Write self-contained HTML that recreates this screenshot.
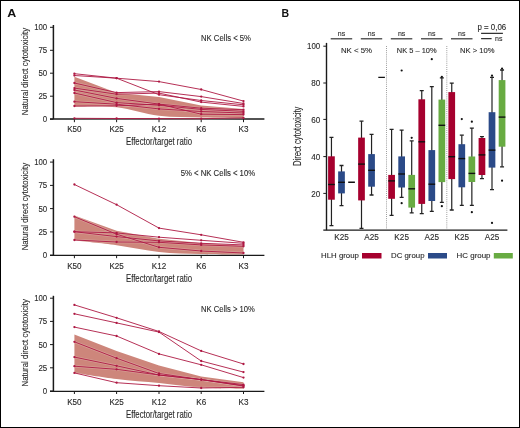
<!DOCTYPE html>
<html><head><meta charset="utf-8"><style>
html,body{margin:0;padding:0;background:#fff;width:520px;height:428px;overflow:hidden}
svg{display:block;font-family:"Liberation Sans",sans-serif;will-change:transform}
</style></head><body>
<svg width="520" height="428" viewBox="0 0 520 428">
<rect x="0.5" y="0.5" width="519" height="427" fill="none" stroke="#000" stroke-width="1"/>
<text x="7.2" y="17.1" font-size="11.8" text-anchor="start" fill="#111" font-weight="bold" textLength="9.0" lengthAdjust="spacingAndGlyphs" >A</text>
<text x="281.4" y="17.2" font-size="11" text-anchor="start" fill="#111" font-weight="bold" textLength="7.6" lengthAdjust="spacingAndGlyphs" >B</text>
<path d="M74.4,76.7 L116.6,92.7 L159.0,97.0 L201.2,105.5 L243.5,109.0 L243.5,118.3 C236.4,118.2 215.3,117.9 201.2,117.5 C187.1,117.1 173.1,117.5 159.0,115.8 C144.9,114.1 130.7,108.8 116.6,107.3 C102.5,105.8 81.4,106.9 74.4,106.8Z" fill="#cd867b"/>
<path d="M53.4,25.0 V119.0" fill="none" stroke="#1a1a1a" stroke-width="1.5"/>
<path d="M50,119.0 H264.4" fill="none" stroke="#1a1a1a" stroke-width="1.4"/>
<path d="M50,119.2 H53.4" stroke="#1a1a1a" stroke-width="1"/>
<text x="47.2" y="122.2" font-size="9.5" text-anchor="end" fill="#2a2a2a" font-weight="normal" stroke="#2a2a2a" stroke-width="0.12" textLength="4.4" lengthAdjust="spacingAndGlyphs" >0</text>
<path d="M50,96.2 H53.4" stroke="#1a1a1a" stroke-width="1"/>
<text x="47.2" y="99.2" font-size="9.5" text-anchor="end" fill="#2a2a2a" font-weight="normal" stroke="#2a2a2a" stroke-width="0.12" textLength="8.8" lengthAdjust="spacingAndGlyphs" >25</text>
<path d="M50,73.2 H53.4" stroke="#1a1a1a" stroke-width="1"/>
<text x="47.2" y="76.2" font-size="9.5" text-anchor="end" fill="#2a2a2a" font-weight="normal" stroke="#2a2a2a" stroke-width="0.12" textLength="8.8" lengthAdjust="spacingAndGlyphs" >50</text>
<path d="M50,50.3 H53.4" stroke="#1a1a1a" stroke-width="1"/>
<text x="47.2" y="53.3" font-size="9.5" text-anchor="end" fill="#2a2a2a" font-weight="normal" stroke="#2a2a2a" stroke-width="0.12" textLength="8.8" lengthAdjust="spacingAndGlyphs" >75</text>
<path d="M50,27.3 H53.4" stroke="#1a1a1a" stroke-width="1"/>
<text x="47.2" y="30.3" font-size="9.5" text-anchor="end" fill="#2a2a2a" font-weight="normal" stroke="#2a2a2a" stroke-width="0.12" textLength="13" lengthAdjust="spacingAndGlyphs" >100</text>
<path d="M74.4,119.2 V122.2" stroke="#1a1a1a" stroke-width="1"/>
<text x="74.4" y="132.4" font-size="8.8" text-anchor="middle" fill="#2a2a2a" font-weight="normal" stroke="#2a2a2a" stroke-width="0.12" textLength="14.4" lengthAdjust="spacingAndGlyphs" >K50</text>
<path d="M116.6,119.2 V122.2" stroke="#1a1a1a" stroke-width="1"/>
<text x="116.6" y="132.4" font-size="8.8" text-anchor="middle" fill="#2a2a2a" font-weight="normal" stroke="#2a2a2a" stroke-width="0.12" textLength="14.4" lengthAdjust="spacingAndGlyphs" >K25</text>
<path d="M159.0,119.2 V122.2" stroke="#1a1a1a" stroke-width="1"/>
<text x="159.0" y="132.4" font-size="8.8" text-anchor="middle" fill="#2a2a2a" font-weight="normal" stroke="#2a2a2a" stroke-width="0.12" textLength="14.4" lengthAdjust="spacingAndGlyphs" >K12</text>
<path d="M201.2,119.2 V122.2" stroke="#1a1a1a" stroke-width="1"/>
<text x="201.2" y="132.4" font-size="8.8" text-anchor="middle" fill="#2a2a2a" font-weight="normal" stroke="#2a2a2a" stroke-width="0.12" textLength="10" lengthAdjust="spacingAndGlyphs" >K6</text>
<path d="M243.5,119.2 V122.2" stroke="#1a1a1a" stroke-width="1"/>
<text x="243.5" y="132.4" font-size="8.8" text-anchor="middle" fill="#2a2a2a" font-weight="normal" stroke="#2a2a2a" stroke-width="0.12" textLength="10" lengthAdjust="spacingAndGlyphs" >K3</text>
<text x="159" y="145.4" font-size="10.3" text-anchor="middle" fill="#2a2a2a" font-weight="normal" stroke="#2a2a2a" stroke-width="0.12" textLength="66" lengthAdjust="spacingAndGlyphs" >Effector/target ratio</text>
<g transform="translate(27.6,71.5) rotate(-90)"><text x="0" y="0" font-size="9.3" text-anchor="middle" fill="#2a2a2a" font-weight="normal" stroke="#2a2a2a" stroke-width="0.12" textLength="87.5" lengthAdjust="spacingAndGlyphs" >Natural direct cytotoxicity</text></g>
<text x="251.0" y="41.0" font-size="8.5" text-anchor="end" fill="#2a2a2a" font-weight="normal" stroke="#2a2a2a" stroke-width="0.12" textLength="50" lengthAdjust="spacingAndGlyphs" >NK Cells &lt; 5%</text>
<path d="M74.4,73.7 L116.6,78.2 L159.0,81.6 L201.2,89.5 L243.5,101.1" fill="none" stroke="#fff" stroke-opacity="0.2" stroke-width="2.4" stroke-linejoin="round"/>
<path d="M74.4,75.5 L116.6,78.2 L159.0,94.7 L201.2,100.5 L243.5,104.8" fill="none" stroke="#fff" stroke-opacity="0.2" stroke-width="2.4" stroke-linejoin="round"/>
<path d="M74.4,83.0 L116.6,92.6 L159.0,91.6 L201.2,96.6 L243.5,103.5" fill="none" stroke="#fff" stroke-opacity="0.2" stroke-width="2.4" stroke-linejoin="round"/>
<path d="M74.4,88.1 L116.6,94.2 L159.0,93.1 L201.2,102.1 L243.5,106.4" fill="none" stroke="#fff" stroke-opacity="0.2" stroke-width="2.4" stroke-linejoin="round"/>
<path d="M74.4,90.0 L116.6,98.4 L159.0,104.1 L201.2,108.2 L243.5,109.7" fill="none" stroke="#fff" stroke-opacity="0.2" stroke-width="2.4" stroke-linejoin="round"/>
<path d="M74.4,93.0 L116.6,102.6 L159.0,105.3 L201.2,109.4 L243.5,111.3" fill="none" stroke="#fff" stroke-opacity="0.2" stroke-width="2.4" stroke-linejoin="round"/>
<path d="M74.4,101.7 L116.6,104.2 L159.0,108.9 L201.2,111.5 L243.5,113.0" fill="none" stroke="#fff" stroke-opacity="0.2" stroke-width="2.4" stroke-linejoin="round"/>
<path d="M74.4,106.0 L116.6,105.8 L159.0,104.1 L201.2,114.2 L243.5,114.6" fill="none" stroke="#fff" stroke-opacity="0.2" stroke-width="2.4" stroke-linejoin="round"/>
<path d="M74.4,118.3 L116.6,118.5 L159.0,118.6 L201.2,118.7 L243.5,117.9" fill="none" stroke="#fff" stroke-opacity="0.2" stroke-width="2.4" stroke-linejoin="round"/>
<path d="M74.4,73.7 L116.6,78.2 L159.0,81.6 L201.2,89.5 L243.5,101.1" fill="none" stroke="#ae1843" stroke-width="0.9" stroke-linejoin="round"/>
<circle cx="74.4" cy="73.7" r="1.15" fill="#ae1843"/>
<circle cx="116.6" cy="78.2" r="1.15" fill="#ae1843"/>
<circle cx="159.0" cy="81.6" r="1.15" fill="#ae1843"/>
<circle cx="201.2" cy="89.5" r="1.15" fill="#ae1843"/>
<circle cx="243.5" cy="101.1" r="1.15" fill="#ae1843"/>
<path d="M74.4,75.5 L116.6,78.2 L159.0,94.7 L201.2,100.5 L243.5,104.8" fill="none" stroke="#ae1843" stroke-width="0.9" stroke-linejoin="round"/>
<circle cx="74.4" cy="75.5" r="1.15" fill="#ae1843"/>
<circle cx="116.6" cy="78.2" r="1.15" fill="#ae1843"/>
<circle cx="159.0" cy="94.7" r="1.15" fill="#ae1843"/>
<circle cx="201.2" cy="100.5" r="1.15" fill="#ae1843"/>
<circle cx="243.5" cy="104.8" r="1.15" fill="#ae1843"/>
<path d="M74.4,83.0 L116.6,92.6 L159.0,91.6 L201.2,96.6 L243.5,103.5" fill="none" stroke="#ae1843" stroke-width="0.9" stroke-linejoin="round"/>
<circle cx="74.4" cy="83.0" r="1.15" fill="#ae1843"/>
<circle cx="116.6" cy="92.6" r="1.15" fill="#ae1843"/>
<circle cx="159.0" cy="91.6" r="1.15" fill="#ae1843"/>
<circle cx="201.2" cy="96.6" r="1.15" fill="#ae1843"/>
<circle cx="243.5" cy="103.5" r="1.15" fill="#ae1843"/>
<path d="M74.4,88.1 L116.6,94.2 L159.0,93.1 L201.2,102.1 L243.5,106.4" fill="none" stroke="#ae1843" stroke-width="0.9" stroke-linejoin="round"/>
<circle cx="74.4" cy="88.1" r="1.15" fill="#ae1843"/>
<circle cx="116.6" cy="94.2" r="1.15" fill="#ae1843"/>
<circle cx="159.0" cy="93.1" r="1.15" fill="#ae1843"/>
<circle cx="201.2" cy="102.1" r="1.15" fill="#ae1843"/>
<circle cx="243.5" cy="106.4" r="1.15" fill="#ae1843"/>
<path d="M74.4,90.0 L116.6,98.4 L159.0,104.1 L201.2,108.2 L243.5,109.7" fill="none" stroke="#ae1843" stroke-width="0.9" stroke-linejoin="round"/>
<circle cx="74.4" cy="90.0" r="1.15" fill="#ae1843"/>
<circle cx="116.6" cy="98.4" r="1.15" fill="#ae1843"/>
<circle cx="159.0" cy="104.1" r="1.15" fill="#ae1843"/>
<circle cx="201.2" cy="108.2" r="1.15" fill="#ae1843"/>
<circle cx="243.5" cy="109.7" r="1.15" fill="#ae1843"/>
<path d="M74.4,93.0 L116.6,102.6 L159.0,105.3 L201.2,109.4 L243.5,111.3" fill="none" stroke="#ae1843" stroke-width="0.9" stroke-linejoin="round"/>
<circle cx="74.4" cy="93.0" r="1.15" fill="#ae1843"/>
<circle cx="116.6" cy="102.6" r="1.15" fill="#ae1843"/>
<circle cx="159.0" cy="105.3" r="1.15" fill="#ae1843"/>
<circle cx="201.2" cy="109.4" r="1.15" fill="#ae1843"/>
<circle cx="243.5" cy="111.3" r="1.15" fill="#ae1843"/>
<path d="M74.4,101.7 L116.6,104.2 L159.0,108.9 L201.2,111.5 L243.5,113.0" fill="none" stroke="#ae1843" stroke-width="0.9" stroke-linejoin="round"/>
<circle cx="74.4" cy="101.7" r="1.15" fill="#ae1843"/>
<circle cx="116.6" cy="104.2" r="1.15" fill="#ae1843"/>
<circle cx="159.0" cy="108.9" r="1.15" fill="#ae1843"/>
<circle cx="201.2" cy="111.5" r="1.15" fill="#ae1843"/>
<circle cx="243.5" cy="113.0" r="1.15" fill="#ae1843"/>
<path d="M74.4,106.0 L116.6,105.8 L159.0,104.1 L201.2,114.2 L243.5,114.6" fill="none" stroke="#ae1843" stroke-width="0.9" stroke-linejoin="round"/>
<circle cx="74.4" cy="106.0" r="1.15" fill="#ae1843"/>
<circle cx="116.6" cy="105.8" r="1.15" fill="#ae1843"/>
<circle cx="159.0" cy="104.1" r="1.15" fill="#ae1843"/>
<circle cx="201.2" cy="114.2" r="1.15" fill="#ae1843"/>
<circle cx="243.5" cy="114.6" r="1.15" fill="#ae1843"/>
<path d="M74.4,118.3 L116.6,118.5 L159.0,118.6 L201.2,118.7 L243.5,117.9" fill="none" stroke="#ae1843" stroke-width="0.9" stroke-linejoin="round"/>
<circle cx="74.4" cy="118.3" r="1.15" fill="#ae1843"/>
<circle cx="116.6" cy="118.5" r="1.15" fill="#ae1843"/>
<circle cx="159.0" cy="118.6" r="1.15" fill="#ae1843"/>
<circle cx="201.2" cy="118.7" r="1.15" fill="#ae1843"/>
<circle cx="243.5" cy="117.9" r="1.15" fill="#ae1843"/>
<path d="M74.4,215.4 L116.6,230.7 L159.0,238.8 L201.2,243.0 L243.5,245.5 L243.5,254.6 C236.4,254.5 215.3,254.4 201.2,254.0 C187.1,253.6 173.1,253.5 159.0,252.0 C144.9,250.5 130.7,247.1 116.6,245.2 C102.5,243.3 81.4,241.4 74.4,240.6Z" fill="#cd867b"/>
<path d="M53.4,159.2 V255.4" fill="none" stroke="#1a1a1a" stroke-width="1.5"/>
<path d="M50,255.4 H264.4" fill="none" stroke="#1a1a1a" stroke-width="1.4"/>
<path d="M50,255.2 H53.4" stroke="#1a1a1a" stroke-width="1"/>
<text x="47.2" y="258.2" font-size="9.5" text-anchor="end" fill="#2a2a2a" font-weight="normal" stroke="#2a2a2a" stroke-width="0.12" textLength="4.4" lengthAdjust="spacingAndGlyphs" >0</text>
<path d="M50,231.9 H53.4" stroke="#1a1a1a" stroke-width="1"/>
<text x="47.2" y="234.9" font-size="9.5" text-anchor="end" fill="#2a2a2a" font-weight="normal" stroke="#2a2a2a" stroke-width="0.12" textLength="8.8" lengthAdjust="spacingAndGlyphs" >25</text>
<path d="M50,208.6 H53.4" stroke="#1a1a1a" stroke-width="1"/>
<text x="47.2" y="211.6" font-size="9.5" text-anchor="end" fill="#2a2a2a" font-weight="normal" stroke="#2a2a2a" stroke-width="0.12" textLength="8.8" lengthAdjust="spacingAndGlyphs" >50</text>
<path d="M50,185.4 H53.4" stroke="#1a1a1a" stroke-width="1"/>
<text x="47.2" y="188.4" font-size="9.5" text-anchor="end" fill="#2a2a2a" font-weight="normal" stroke="#2a2a2a" stroke-width="0.12" textLength="8.8" lengthAdjust="spacingAndGlyphs" >75</text>
<path d="M50,162.1 H53.4" stroke="#1a1a1a" stroke-width="1"/>
<text x="47.2" y="165.1" font-size="9.5" text-anchor="end" fill="#2a2a2a" font-weight="normal" stroke="#2a2a2a" stroke-width="0.12" textLength="13" lengthAdjust="spacingAndGlyphs" >100</text>
<path d="M74.4,255.2 V258.2" stroke="#1a1a1a" stroke-width="1"/>
<text x="74.4" y="268.8" font-size="8.8" text-anchor="middle" fill="#2a2a2a" font-weight="normal" stroke="#2a2a2a" stroke-width="0.12" textLength="14.4" lengthAdjust="spacingAndGlyphs" >K50</text>
<path d="M116.6,255.2 V258.2" stroke="#1a1a1a" stroke-width="1"/>
<text x="116.6" y="268.8" font-size="8.8" text-anchor="middle" fill="#2a2a2a" font-weight="normal" stroke="#2a2a2a" stroke-width="0.12" textLength="14.4" lengthAdjust="spacingAndGlyphs" >K25</text>
<path d="M159.0,255.2 V258.2" stroke="#1a1a1a" stroke-width="1"/>
<text x="159.0" y="268.8" font-size="8.8" text-anchor="middle" fill="#2a2a2a" font-weight="normal" stroke="#2a2a2a" stroke-width="0.12" textLength="14.4" lengthAdjust="spacingAndGlyphs" >K12</text>
<path d="M201.2,255.2 V258.2" stroke="#1a1a1a" stroke-width="1"/>
<text x="201.2" y="268.8" font-size="8.8" text-anchor="middle" fill="#2a2a2a" font-weight="normal" stroke="#2a2a2a" stroke-width="0.12" textLength="10" lengthAdjust="spacingAndGlyphs" >K6</text>
<path d="M243.5,255.2 V258.2" stroke="#1a1a1a" stroke-width="1"/>
<text x="243.5" y="268.8" font-size="8.8" text-anchor="middle" fill="#2a2a2a" font-weight="normal" stroke="#2a2a2a" stroke-width="0.12" textLength="10" lengthAdjust="spacingAndGlyphs" >K3</text>
<text x="159" y="281.8" font-size="10.3" text-anchor="middle" fill="#2a2a2a" font-weight="normal" stroke="#2a2a2a" stroke-width="0.12" textLength="66" lengthAdjust="spacingAndGlyphs" >Effector/target ratio</text>
<g transform="translate(27.6,206.6) rotate(-90)"><text x="0" y="0" font-size="9.3" text-anchor="middle" fill="#2a2a2a" font-weight="normal" stroke="#2a2a2a" stroke-width="0.12" textLength="87.5" lengthAdjust="spacingAndGlyphs" >Natural direct cytotoxicity</text></g>
<text x="255.1" y="175.6" font-size="8.5" text-anchor="end" fill="#2a2a2a" font-weight="normal" stroke="#2a2a2a" stroke-width="0.12" textLength="74.4" lengthAdjust="spacingAndGlyphs" >5% &lt; NK Cells &lt; 10%</text>
<path d="M74.4,184.5 L116.6,204.7 L159.0,228.1 L201.2,234.8 L243.5,242.3" fill="none" stroke="#fff" stroke-opacity="0.2" stroke-width="2.4" stroke-linejoin="round"/>
<path d="M74.4,216.7 L116.6,234.2 L159.0,247.3 L201.2,251.0 L243.5,253.0" fill="none" stroke="#fff" stroke-opacity="0.2" stroke-width="2.4" stroke-linejoin="round"/>
<path d="M74.4,231.7 L116.6,232.9 L159.0,237.2 L201.2,240.3 L243.5,243.3" fill="none" stroke="#fff" stroke-opacity="0.2" stroke-width="2.4" stroke-linejoin="round"/>
<path d="M74.4,231.7 L116.6,236.6 L159.0,240.9 L201.2,243.3 L243.5,244.9" fill="none" stroke="#fff" stroke-opacity="0.2" stroke-width="2.4" stroke-linejoin="round"/>
<path d="M74.4,240.0 L116.6,242.0 L159.0,242.3 L201.2,244.9 L243.5,246.3" fill="none" stroke="#fff" stroke-opacity="0.2" stroke-width="2.4" stroke-linejoin="round"/>
<path d="M74.4,184.5 L116.6,204.7 L159.0,228.1 L201.2,234.8 L243.5,242.3" fill="none" stroke="#ae1843" stroke-width="0.9" stroke-linejoin="round"/>
<circle cx="74.4" cy="184.5" r="1.15" fill="#ae1843"/>
<circle cx="116.6" cy="204.7" r="1.15" fill="#ae1843"/>
<circle cx="159.0" cy="228.1" r="1.15" fill="#ae1843"/>
<circle cx="201.2" cy="234.8" r="1.15" fill="#ae1843"/>
<circle cx="243.5" cy="242.3" r="1.15" fill="#ae1843"/>
<path d="M74.4,216.7 L116.6,234.2 L159.0,247.3 L201.2,251.0 L243.5,253.0" fill="none" stroke="#ae1843" stroke-width="0.9" stroke-linejoin="round"/>
<circle cx="74.4" cy="216.7" r="1.15" fill="#ae1843"/>
<circle cx="116.6" cy="234.2" r="1.15" fill="#ae1843"/>
<circle cx="159.0" cy="247.3" r="1.15" fill="#ae1843"/>
<circle cx="201.2" cy="251.0" r="1.15" fill="#ae1843"/>
<circle cx="243.5" cy="253.0" r="1.15" fill="#ae1843"/>
<path d="M74.4,231.7 L116.6,232.9 L159.0,237.2 L201.2,240.3 L243.5,243.3" fill="none" stroke="#ae1843" stroke-width="0.9" stroke-linejoin="round"/>
<circle cx="74.4" cy="231.7" r="1.15" fill="#ae1843"/>
<circle cx="116.6" cy="232.9" r="1.15" fill="#ae1843"/>
<circle cx="159.0" cy="237.2" r="1.15" fill="#ae1843"/>
<circle cx="201.2" cy="240.3" r="1.15" fill="#ae1843"/>
<circle cx="243.5" cy="243.3" r="1.15" fill="#ae1843"/>
<path d="M74.4,231.7 L116.6,236.6 L159.0,240.9 L201.2,243.3 L243.5,244.9" fill="none" stroke="#ae1843" stroke-width="0.9" stroke-linejoin="round"/>
<circle cx="74.4" cy="231.7" r="1.15" fill="#ae1843"/>
<circle cx="116.6" cy="236.6" r="1.15" fill="#ae1843"/>
<circle cx="159.0" cy="240.9" r="1.15" fill="#ae1843"/>
<circle cx="201.2" cy="243.3" r="1.15" fill="#ae1843"/>
<circle cx="243.5" cy="244.9" r="1.15" fill="#ae1843"/>
<path d="M74.4,240.0 L116.6,242.0 L159.0,242.3 L201.2,244.9 L243.5,246.3" fill="none" stroke="#ae1843" stroke-width="0.9" stroke-linejoin="round"/>
<circle cx="74.4" cy="240.0" r="1.15" fill="#ae1843"/>
<circle cx="116.6" cy="242.0" r="1.15" fill="#ae1843"/>
<circle cx="159.0" cy="242.3" r="1.15" fill="#ae1843"/>
<circle cx="201.2" cy="244.9" r="1.15" fill="#ae1843"/>
<circle cx="243.5" cy="246.3" r="1.15" fill="#ae1843"/>
<path d="M74.4,334.4 L116.6,351.0 L159.0,365.6 L201.2,376.6 L243.5,382.2 L243.5,388.7 C236.4,388.5 215.3,388.6 201.2,387.7 C187.1,386.8 173.1,384.5 159.0,383.0 C144.9,381.5 130.7,380.6 116.6,378.9 C102.5,377.2 81.4,373.9 74.4,372.9Z" fill="#cd867b"/>
<path d="M53.4,295.8 V391.4" fill="none" stroke="#1a1a1a" stroke-width="1.5"/>
<path d="M50,391.4 H264.4" fill="none" stroke="#1a1a1a" stroke-width="1.4"/>
<path d="M50,391.0 H53.4" stroke="#1a1a1a" stroke-width="1"/>
<text x="47.2" y="394.0" font-size="9.5" text-anchor="end" fill="#2a2a2a" font-weight="normal" stroke="#2a2a2a" stroke-width="0.12" textLength="4.4" lengthAdjust="spacingAndGlyphs" >0</text>
<path d="M50,367.8 H53.4" stroke="#1a1a1a" stroke-width="1"/>
<text x="47.2" y="370.8" font-size="9.5" text-anchor="end" fill="#2a2a2a" font-weight="normal" stroke="#2a2a2a" stroke-width="0.12" textLength="8.8" lengthAdjust="spacingAndGlyphs" >25</text>
<path d="M50,344.6 H53.4" stroke="#1a1a1a" stroke-width="1"/>
<text x="47.2" y="347.6" font-size="9.5" text-anchor="end" fill="#2a2a2a" font-weight="normal" stroke="#2a2a2a" stroke-width="0.12" textLength="8.8" lengthAdjust="spacingAndGlyphs" >50</text>
<path d="M50,321.4 H53.4" stroke="#1a1a1a" stroke-width="1"/>
<text x="47.2" y="324.4" font-size="9.5" text-anchor="end" fill="#2a2a2a" font-weight="normal" stroke="#2a2a2a" stroke-width="0.12" textLength="8.8" lengthAdjust="spacingAndGlyphs" >75</text>
<path d="M50,298.2 H53.4" stroke="#1a1a1a" stroke-width="1"/>
<text x="47.2" y="301.2" font-size="9.5" text-anchor="end" fill="#2a2a2a" font-weight="normal" stroke="#2a2a2a" stroke-width="0.12" textLength="13" lengthAdjust="spacingAndGlyphs" >100</text>
<path d="M74.4,391.0 V394.0" stroke="#1a1a1a" stroke-width="1"/>
<text x="74.4" y="404.8" font-size="8.8" text-anchor="middle" fill="#2a2a2a" font-weight="normal" stroke="#2a2a2a" stroke-width="0.12" textLength="14.4" lengthAdjust="spacingAndGlyphs" >K50</text>
<path d="M116.6,391.0 V394.0" stroke="#1a1a1a" stroke-width="1"/>
<text x="116.6" y="404.8" font-size="8.8" text-anchor="middle" fill="#2a2a2a" font-weight="normal" stroke="#2a2a2a" stroke-width="0.12" textLength="14.4" lengthAdjust="spacingAndGlyphs" >K25</text>
<path d="M159.0,391.0 V394.0" stroke="#1a1a1a" stroke-width="1"/>
<text x="159.0" y="404.8" font-size="8.8" text-anchor="middle" fill="#2a2a2a" font-weight="normal" stroke="#2a2a2a" stroke-width="0.12" textLength="14.4" lengthAdjust="spacingAndGlyphs" >K12</text>
<path d="M201.2,391.0 V394.0" stroke="#1a1a1a" stroke-width="1"/>
<text x="201.2" y="404.8" font-size="8.8" text-anchor="middle" fill="#2a2a2a" font-weight="normal" stroke="#2a2a2a" stroke-width="0.12" textLength="10" lengthAdjust="spacingAndGlyphs" >K6</text>
<path d="M243.5,391.0 V394.0" stroke="#1a1a1a" stroke-width="1"/>
<text x="243.5" y="404.8" font-size="8.8" text-anchor="middle" fill="#2a2a2a" font-weight="normal" stroke="#2a2a2a" stroke-width="0.12" textLength="10" lengthAdjust="spacingAndGlyphs" >K3</text>
<text x="159" y="417.8" font-size="10.3" text-anchor="middle" fill="#2a2a2a" font-weight="normal" stroke="#2a2a2a" stroke-width="0.12" textLength="66" lengthAdjust="spacingAndGlyphs" >Effector/target ratio</text>
<g transform="translate(27.6,342.8) rotate(-90)"><text x="0" y="0" font-size="9.3" text-anchor="middle" fill="#2a2a2a" font-weight="normal" stroke="#2a2a2a" stroke-width="0.12" textLength="87.5" lengthAdjust="spacingAndGlyphs" >Natural direct cytotoxicity</text></g>
<text x="254.8" y="311.5" font-size="8.5" text-anchor="end" fill="#2a2a2a" font-weight="normal" stroke="#2a2a2a" stroke-width="0.12" textLength="53.7" lengthAdjust="spacingAndGlyphs" >NK Cells &gt; 10%</text>
<path d="M74.4,304.9 L116.6,317.8 L159.0,331.5 L201.2,350.9 L243.5,364.0" fill="none" stroke="#fff" stroke-opacity="0.2" stroke-width="2.4" stroke-linejoin="round"/>
<path d="M74.4,313.8 L116.6,322.9 L159.0,332.1 L201.2,361.0 L243.5,372.1" fill="none" stroke="#fff" stroke-opacity="0.2" stroke-width="2.4" stroke-linejoin="round"/>
<path d="M74.4,327.1 L116.6,336.0 L159.0,353.9 L201.2,364.8 L243.5,377.6" fill="none" stroke="#fff" stroke-opacity="0.2" stroke-width="2.4" stroke-linejoin="round"/>
<path d="M74.4,341.8 L116.6,358.2 L159.0,373.5 L201.2,379.6 L243.5,384.6" fill="none" stroke="#fff" stroke-opacity="0.2" stroke-width="2.4" stroke-linejoin="round"/>
<path d="M74.4,357.1 L116.6,365.8 L159.0,375.0 L201.2,379.6 L243.5,385.7" fill="none" stroke="#fff" stroke-opacity="0.2" stroke-width="2.4" stroke-linejoin="round"/>
<path d="M74.4,366.2 L116.6,369.3 L159.0,375.0 L201.2,379.6 L243.5,386.0" fill="none" stroke="#fff" stroke-opacity="0.2" stroke-width="2.4" stroke-linejoin="round"/>
<path d="M74.4,372.9 L116.6,382.7 L159.0,385.7 L201.2,388.0 L243.5,387.3" fill="none" stroke="#fff" stroke-opacity="0.2" stroke-width="2.4" stroke-linejoin="round"/>
<path d="M74.4,304.9 L116.6,317.8 L159.0,331.5 L201.2,350.9 L243.5,364.0" fill="none" stroke="#ae1843" stroke-width="0.9" stroke-linejoin="round"/>
<circle cx="74.4" cy="304.9" r="1.15" fill="#ae1843"/>
<circle cx="116.6" cy="317.8" r="1.15" fill="#ae1843"/>
<circle cx="159.0" cy="331.5" r="1.15" fill="#ae1843"/>
<circle cx="201.2" cy="350.9" r="1.15" fill="#ae1843"/>
<circle cx="243.5" cy="364.0" r="1.15" fill="#ae1843"/>
<path d="M74.4,313.8 L116.6,322.9 L159.0,332.1 L201.2,361.0 L243.5,372.1" fill="none" stroke="#ae1843" stroke-width="0.9" stroke-linejoin="round"/>
<circle cx="74.4" cy="313.8" r="1.15" fill="#ae1843"/>
<circle cx="116.6" cy="322.9" r="1.15" fill="#ae1843"/>
<circle cx="159.0" cy="332.1" r="1.15" fill="#ae1843"/>
<circle cx="201.2" cy="361.0" r="1.15" fill="#ae1843"/>
<circle cx="243.5" cy="372.1" r="1.15" fill="#ae1843"/>
<path d="M74.4,327.1 L116.6,336.0 L159.0,353.9 L201.2,364.8 L243.5,377.6" fill="none" stroke="#ae1843" stroke-width="0.9" stroke-linejoin="round"/>
<circle cx="74.4" cy="327.1" r="1.15" fill="#ae1843"/>
<circle cx="116.6" cy="336.0" r="1.15" fill="#ae1843"/>
<circle cx="159.0" cy="353.9" r="1.15" fill="#ae1843"/>
<circle cx="201.2" cy="364.8" r="1.15" fill="#ae1843"/>
<circle cx="243.5" cy="377.6" r="1.15" fill="#ae1843"/>
<path d="M74.4,341.8 L116.6,358.2 L159.0,373.5 L201.2,379.6 L243.5,384.6" fill="none" stroke="#ae1843" stroke-width="0.9" stroke-linejoin="round"/>
<circle cx="74.4" cy="341.8" r="1.15" fill="#ae1843"/>
<circle cx="116.6" cy="358.2" r="1.15" fill="#ae1843"/>
<circle cx="159.0" cy="373.5" r="1.15" fill="#ae1843"/>
<circle cx="201.2" cy="379.6" r="1.15" fill="#ae1843"/>
<circle cx="243.5" cy="384.6" r="1.15" fill="#ae1843"/>
<path d="M74.4,357.1 L116.6,365.8 L159.0,375.0 L201.2,379.6 L243.5,385.7" fill="none" stroke="#ae1843" stroke-width="0.9" stroke-linejoin="round"/>
<circle cx="74.4" cy="357.1" r="1.15" fill="#ae1843"/>
<circle cx="116.6" cy="365.8" r="1.15" fill="#ae1843"/>
<circle cx="159.0" cy="375.0" r="1.15" fill="#ae1843"/>
<circle cx="201.2" cy="379.6" r="1.15" fill="#ae1843"/>
<circle cx="243.5" cy="385.7" r="1.15" fill="#ae1843"/>
<path d="M74.4,366.2 L116.6,369.3 L159.0,375.0 L201.2,379.6 L243.5,386.0" fill="none" stroke="#ae1843" stroke-width="0.9" stroke-linejoin="round"/>
<circle cx="74.4" cy="366.2" r="1.15" fill="#ae1843"/>
<circle cx="116.6" cy="369.3" r="1.15" fill="#ae1843"/>
<circle cx="159.0" cy="375.0" r="1.15" fill="#ae1843"/>
<circle cx="201.2" cy="379.6" r="1.15" fill="#ae1843"/>
<circle cx="243.5" cy="386.0" r="1.15" fill="#ae1843"/>
<path d="M74.4,372.9 L116.6,382.7 L159.0,385.7 L201.2,388.0 L243.5,387.3" fill="none" stroke="#ae1843" stroke-width="0.9" stroke-linejoin="round"/>
<circle cx="74.4" cy="372.9" r="1.15" fill="#ae1843"/>
<circle cx="116.6" cy="382.7" r="1.15" fill="#ae1843"/>
<circle cx="159.0" cy="385.7" r="1.15" fill="#ae1843"/>
<circle cx="201.2" cy="388.0" r="1.15" fill="#ae1843"/>
<circle cx="243.5" cy="387.3" r="1.15" fill="#ae1843"/>
<path d="M326.5,42.9 V230.2" fill="none" stroke="#1a1a1a" stroke-width="1.4"/>
<path d="M323.3,230.2 H507.4" fill="none" stroke="#1a1a1a" stroke-width="1.3"/>
<path d="M323.3,46.2 H326.5" stroke="#1a1a1a" stroke-width="1"/>
<text x="320.2" y="49.3" font-size="9" text-anchor="end" fill="#2a2a2a" font-weight="normal" stroke="#2a2a2a" stroke-width="0.12" textLength="13.2" lengthAdjust="spacingAndGlyphs" >100</text>
<path d="M323.3,83.0 H326.5" stroke="#1a1a1a" stroke-width="1"/>
<text x="320.2" y="86.1" font-size="9" text-anchor="end" fill="#2a2a2a" font-weight="normal" stroke="#2a2a2a" stroke-width="0.12" textLength="9" lengthAdjust="spacingAndGlyphs" >80</text>
<path d="M323.3,119.4 H326.5" stroke="#1a1a1a" stroke-width="1"/>
<text x="320.2" y="122.5" font-size="9" text-anchor="end" fill="#2a2a2a" font-weight="normal" stroke="#2a2a2a" stroke-width="0.12" textLength="9" lengthAdjust="spacingAndGlyphs" >60</text>
<path d="M323.3,156.6 H326.5" stroke="#1a1a1a" stroke-width="1"/>
<text x="320.2" y="159.7" font-size="9" text-anchor="end" fill="#2a2a2a" font-weight="normal" stroke="#2a2a2a" stroke-width="0.12" textLength="9" lengthAdjust="spacingAndGlyphs" >40</text>
<path d="M323.3,193.4 H326.5" stroke="#1a1a1a" stroke-width="1"/>
<text x="320.2" y="196.5" font-size="9" text-anchor="end" fill="#2a2a2a" font-weight="normal" stroke="#2a2a2a" stroke-width="0.12" textLength="9" lengthAdjust="spacingAndGlyphs" >20</text>
<g transform="translate(301.1,136.3) rotate(-90)"><text x="0" y="0" font-size="10.6" text-anchor="middle" fill="#2a2a2a" font-weight="normal" stroke="#2a2a2a" stroke-width="0.12" textLength="59.5" lengthAdjust="spacingAndGlyphs" >Direct cytotoxicity</text></g>
<path d="M386.5,46 V229" stroke="#777" stroke-width="0.8" stroke-dasharray="0.9,1.2"/>
<path d="M446.8,46 V229" stroke="#777" stroke-width="0.8" stroke-dasharray="0.9,1.2"/>
<path d="M331.45,137.4 V225.6" stroke="#222" stroke-width="1.2"/><path d="M329.45,137.4 H333.45 M329.45,225.6 H333.45" stroke="#222" stroke-width="1.3"/><rect x="328.10" y="156.3" width="6.7" height="43.40" fill="#a6002e"/><path d="M328.10,184.5 H334.80" stroke="#111" stroke-width="1.4"/>
<path d="M341.50,165.5 V205.6" stroke="#222" stroke-width="1.2"/><path d="M339.50,165.5 H343.50 M339.50,205.6 H343.50" stroke="#222" stroke-width="1.3"/><rect x="338.15" y="171.4" width="6.7" height="22.00" fill="#2b4a88"/><path d="M338.15,182.3 H344.85" stroke="#111" stroke-width="1.4"/>
<path d="M361.50,121.2 V228.4" stroke="#222" stroke-width="1.2"/><path d="M359.50,121.2 H363.50 M359.50,228.4 H363.50" stroke="#222" stroke-width="1.3"/><rect x="358.15" y="137.6" width="6.7" height="62.80" fill="#a6002e"/><path d="M358.15,164.1 H364.85" stroke="#111" stroke-width="1.4"/>
<path d="M371.55,134.4 V195.0" stroke="#222" stroke-width="1.2"/><path d="M369.55,134.4 H373.55 M369.55,195.0 H373.55" stroke="#222" stroke-width="1.3"/><rect x="368.20" y="154.1" width="6.7" height="32.60" fill="#2b4a88"/><path d="M368.20,170.3 H374.90" stroke="#111" stroke-width="1.4"/>
<path d="M391.60,129.4 V215.4" stroke="#222" stroke-width="1.2"/><path d="M389.60,129.4 H393.60 M389.60,215.4 H393.60" stroke="#222" stroke-width="1.3"/><rect x="388.25" y="174.9" width="6.7" height="23.90" fill="#a6002e"/><path d="M388.25,180.9 H394.95" stroke="#111" stroke-width="1.4"/>
<path d="M401.65,130.1 V197.4" stroke="#222" stroke-width="1.2"/><path d="M399.65,130.1 H403.65 M399.65,197.4 H403.65" stroke="#222" stroke-width="1.3"/><rect x="398.30" y="156.4" width="6.7" height="31.10" fill="#2b4a88"/><path d="M398.30,174.0 H405.00" stroke="#111" stroke-width="1.4"/><circle cx="401.65" cy="70.5" r="1.1" fill="#111"/><circle cx="401.65" cy="203.2" r="1.1" fill="#111"/>
<path d="M411.70,140.9 V212.9" stroke="#222" stroke-width="1.2"/><path d="M409.70,140.9 H413.70 M409.70,212.9 H413.70" stroke="#222" stroke-width="1.3"/><rect x="408.35" y="174.9" width="6.7" height="32.70" fill="#68ab42"/><path d="M408.35,188.8 H415.05" stroke="#111" stroke-width="1.4"/><circle cx="411.70" cy="137.8" r="1.1" fill="#111"/>
<path d="M421.75,90.6 V213.7" stroke="#222" stroke-width="1.2"/><path d="M419.75,90.6 H423.75 M419.75,213.7 H423.75" stroke="#222" stroke-width="1.3"/><rect x="418.40" y="99.3" width="6.7" height="104.60" fill="#a6002e"/><path d="M418.40,141.8 H425.10" stroke="#111" stroke-width="1.4"/>
<path d="M431.80,86.7 V211.3" stroke="#222" stroke-width="1.2"/><path d="M429.80,86.7 H433.80 M429.80,211.3 H433.80" stroke="#222" stroke-width="1.3"/><rect x="428.45" y="150.1" width="6.7" height="50.90" fill="#2b4a88"/><path d="M428.45,184.2 H435.15" stroke="#111" stroke-width="1.4"/><circle cx="431.80" cy="59.2" r="1.1" fill="#111"/>
<path d="M441.85,77.9 V202.4" stroke="#222" stroke-width="1.2"/><path d="M439.85,77.9 H443.85 M439.85,202.4 H443.85" stroke="#222" stroke-width="1.3"/><rect x="438.50" y="99.6" width="6.7" height="82.50" fill="#68ab42"/><path d="M438.50,125.3 H445.20" stroke="#111" stroke-width="1.4"/><circle cx="441.85" cy="76.8" r="1.1" fill="#111"/><circle cx="441.85" cy="206.2" r="1.1" fill="#111"/>
<path d="M451.75,83.1 V210.0" stroke="#222" stroke-width="1.2"/><path d="M449.75,83.1 H453.75 M449.75,210.0 H453.75" stroke="#222" stroke-width="1.3"/><rect x="448.40" y="92.1" width="6.7" height="87.00" fill="#a6002e"/><path d="M448.40,156.7 H455.10" stroke="#111" stroke-width="1.4"/>
<path d="M461.80,135.2 V205.4" stroke="#222" stroke-width="1.2"/><path d="M459.80,135.2 H463.80 M459.80,205.4 H463.80" stroke="#222" stroke-width="1.3"/><rect x="458.45" y="144.2" width="6.7" height="43.10" fill="#2b4a88"/><path d="M458.45,158.6 H465.15" stroke="#111" stroke-width="1.4"/><circle cx="461.80" cy="119.1" r="1.1" fill="#111"/>
<path d="M471.85,128.1 V205.4" stroke="#222" stroke-width="1.2"/><path d="M469.85,128.1 H473.85 M469.85,205.4 H473.85" stroke="#222" stroke-width="1.3"/><rect x="468.50" y="156.5" width="6.7" height="25.50" fill="#68ab42"/><path d="M468.50,173.4 H475.20" stroke="#111" stroke-width="1.4"/><circle cx="471.85" cy="121.7" r="1.1" fill="#111"/><circle cx="471.85" cy="212.2" r="1.1" fill="#111"/>
<path d="M481.95,136.6 V178.6" stroke="#222" stroke-width="1.2"/><path d="M479.95,136.6 H483.95 M479.95,178.6 H483.95" stroke="#222" stroke-width="1.3"/><rect x="478.60" y="138.0" width="6.7" height="37.00" fill="#a6002e"/><path d="M478.60,154.9 H485.30" stroke="#111" stroke-width="1.4"/>
<path d="M492.00,77.4 V189.6" stroke="#222" stroke-width="1.2"/><path d="M490.00,77.4 H494.00 M490.00,189.6 H494.00" stroke="#222" stroke-width="1.3"/><rect x="488.65" y="112.2" width="6.7" height="55.40" fill="#2b4a88"/><path d="M488.65,150.1 H495.35" stroke="#111" stroke-width="1.4"/><circle cx="492.00" cy="75.7" r="1.1" fill="#111"/><circle cx="492.00" cy="222.9" r="1.1" fill="#111"/>
<path d="M502.05,70.0 V166.8" stroke="#222" stroke-width="1.2"/><path d="M500.05,70.0 H504.05 M500.05,166.8 H504.05" stroke="#222" stroke-width="1.3"/><rect x="498.70" y="80.1" width="6.7" height="66.60" fill="#68ab42"/><path d="M498.70,117.1 H505.40" stroke="#111" stroke-width="1.4"/><circle cx="502.05" cy="68.5" r="1.1" fill="#111"/><circle cx="502.05" cy="180.7" r="1.1" fill="#111"/>
<path d="M348.2,182.3 H354.9 M378.3,77.4 H384.9" stroke="#111" stroke-width="1.4"/>
<path d="M330.7,38.8 H352.2" stroke="#333" stroke-width="1.2"/>
<text x="341.5" y="35.6" font-size="7.6" text-anchor="middle" fill="#2a2a2a" font-weight="normal" stroke="#2a2a2a" stroke-width="0.12" textLength="7.4" lengthAdjust="spacingAndGlyphs" >ns</text>
<path d="M360.8,38.8 H382.2" stroke="#333" stroke-width="1.2"/>
<text x="371.55" y="35.6" font-size="7.6" text-anchor="middle" fill="#2a2a2a" font-weight="normal" stroke="#2a2a2a" stroke-width="0.12" textLength="7.4" lengthAdjust="spacingAndGlyphs" >ns</text>
<path d="M390.8,38.8 H412.3" stroke="#333" stroke-width="1.2"/>
<text x="401.65" y="35.6" font-size="7.6" text-anchor="middle" fill="#2a2a2a" font-weight="normal" stroke="#2a2a2a" stroke-width="0.12" textLength="7.4" lengthAdjust="spacingAndGlyphs" >ns</text>
<path d="M421.0,38.8 H442.5" stroke="#333" stroke-width="1.2"/>
<text x="431.8" y="35.6" font-size="7.6" text-anchor="middle" fill="#2a2a2a" font-weight="normal" stroke="#2a2a2a" stroke-width="0.12" textLength="7.4" lengthAdjust="spacingAndGlyphs" >ns</text>
<path d="M451.0,38.8 H472.5" stroke="#333" stroke-width="1.2"/>
<text x="461.8" y="35.6" font-size="7.6" text-anchor="middle" fill="#2a2a2a" font-weight="normal" stroke="#2a2a2a" stroke-width="0.12" textLength="7.4" lengthAdjust="spacingAndGlyphs" >ns</text>
<path d="M481.1,33.4 H502.9 M481.1,38.6 H491.6" stroke="#333" stroke-width="1.25"/>
<text x="477.4" y="29.7" font-size="8.7" text-anchor="start" fill="#2a2a2a" font-weight="normal" stroke="#2a2a2a" stroke-width="0.12" textLength="28.8" lengthAdjust="spacingAndGlyphs" >p = 0,06</text>
<text x="495.1" y="41.0" font-size="7.6" text-anchor="start" fill="#2a2a2a" font-weight="normal" stroke="#2a2a2a" stroke-width="0.12" textLength="7.4" lengthAdjust="spacingAndGlyphs" >ns</text>
<text x="340.9" y="53.1" font-size="8" text-anchor="start" fill="#2a2a2a" font-weight="normal" stroke="#2a2a2a" stroke-width="0.12" textLength="31.1" lengthAdjust="spacingAndGlyphs" >NK &lt; 5%</text>
<text x="396.8" y="53.1" font-size="8" text-anchor="start" fill="#2a2a2a" font-weight="normal" stroke="#2a2a2a" stroke-width="0.12" textLength="39.8" lengthAdjust="spacingAndGlyphs" >NK 5 – 10%</text>
<text x="460.0" y="53.1" font-size="8" text-anchor="start" fill="#2a2a2a" font-weight="normal" stroke="#2a2a2a" stroke-width="0.12" textLength="34.5" lengthAdjust="spacingAndGlyphs" >NK &gt; 10%</text>
<text x="341.5" y="239.8" font-size="9" text-anchor="middle" fill="#2a2a2a" font-weight="normal" stroke="#2a2a2a" stroke-width="0.12" textLength="14.6" lengthAdjust="spacingAndGlyphs" >K25</text>
<text x="371.55" y="239.8" font-size="9" text-anchor="middle" fill="#2a2a2a" font-weight="normal" stroke="#2a2a2a" stroke-width="0.12" textLength="14.6" lengthAdjust="spacingAndGlyphs" >A25</text>
<text x="401.65" y="239.8" font-size="9" text-anchor="middle" fill="#2a2a2a" font-weight="normal" stroke="#2a2a2a" stroke-width="0.12" textLength="14.6" lengthAdjust="spacingAndGlyphs" >K25</text>
<text x="431.8" y="239.8" font-size="9" text-anchor="middle" fill="#2a2a2a" font-weight="normal" stroke="#2a2a2a" stroke-width="0.12" textLength="14.6" lengthAdjust="spacingAndGlyphs" >A25</text>
<text x="461.8" y="239.8" font-size="9" text-anchor="middle" fill="#2a2a2a" font-weight="normal" stroke="#2a2a2a" stroke-width="0.12" textLength="14.6" lengthAdjust="spacingAndGlyphs" >K25</text>
<text x="492.0" y="239.8" font-size="9" text-anchor="middle" fill="#2a2a2a" font-weight="normal" stroke="#2a2a2a" stroke-width="0.12" textLength="14.6" lengthAdjust="spacingAndGlyphs" >A25</text>
<text x="321.1" y="258.2" font-size="7.6" text-anchor="start" fill="#2a2a2a" font-weight="normal" stroke="#2a2a2a" stroke-width="0.12" textLength="37.8" lengthAdjust="spacingAndGlyphs" >HLH group</text>
<rect x="362" y="253" width="19.5" height="5.5" fill="#a6002e"/>
<text x="391.1" y="258.2" font-size="7.6" text-anchor="start" fill="#2a2a2a" font-weight="normal" stroke="#2a2a2a" stroke-width="0.12" textLength="33.4" lengthAdjust="spacingAndGlyphs" >DC group</text>
<rect x="428" y="253" width="19" height="5.5" fill="#2b4a88"/>
<text x="456.6" y="258.2" font-size="7.6" text-anchor="start" fill="#2a2a2a" font-weight="normal" stroke="#2a2a2a" stroke-width="0.12" textLength="33.9" lengthAdjust="spacingAndGlyphs" >HC group</text>
<rect x="493.8" y="253" width="19" height="5.5" fill="#68ab42"/>
</svg></body></html>
